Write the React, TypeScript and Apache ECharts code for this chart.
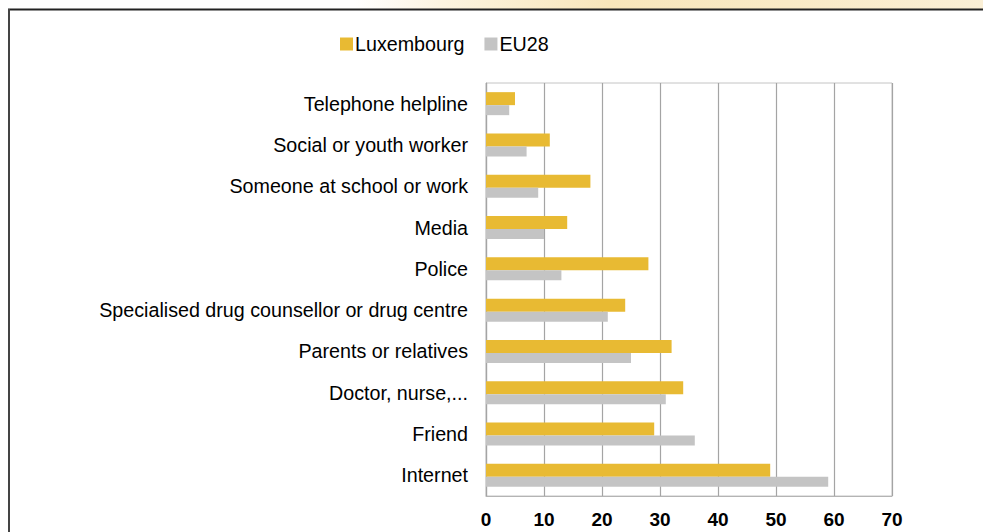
import React, { useEffect, useRef } from "react";
import * as echarts from "echarts";

const categories = [
  "Internet",
  "Friend",
  "Doctor, nurse,...",
  "Parents or relatives",
  "Specialised drug counsellor or drug centre",
  "Police",
  "Media",
  "Someone at school or work",
  "Social or youth worker",
  "Telephone helpline",
];
const luxembourg = [49, 29, 34, 32, 24, 28, 14, 18, 11, 5];
const eu28 = [59, 36, 31, 25, 21, 13, 10, 9, 7, 4];
const xTicks = [0, 10, 20, 30, 40, 50, 60, 70];

export default function App() {
  const ref = useRef<HTMLDivElement>(null);
  useEffect(() => {
    if (!ref.current) return;
    const chart = echarts.init(ref.current, null, { renderer: "svg" });
    chart.setOption({
      animation: false,
      backgroundColor: "#ffffff",
      textStyle: { fontFamily: "Liberation Sans, Arial, sans-serif" },
      graphic: [
        {
          type: "rect",
          shape: { x: 0, y: 0, width: 983, height: 9 },
          style: {
            fill: new echarts.graphic.LinearGradient(0, 0, 1, 0, [
              { offset: 0, color: "#ffffff" },
              { offset: 0.36, color: "#ffffff" },
              { offset: 0.45, color: "#FCF4E0" },
              { offset: 0.62, color: "#F8E6BB" },
              { offset: 0.8, color: "#F9EAC6" },
              { offset: 1, color: "#FAEFD6" },
            ]),
          },
          silent: true,
        },
        {
          type: "line",
          shape: { x1: 8, y1: 9.5, x2: 983, y2: 9.5 },
          style: { stroke: "#222222", lineWidth: 2 },
          silent: true,
        },
        {
          type: "line",
          shape: { x1: 9, y1: 9, x2: 9, y2: 532 },
          style: { stroke: "#444444", lineWidth: 2 },
          silent: true,
        },
      ],
      legend: {
        data: ["Luxembourg", "EU28"],
        left: 335,
        top: 29,
        itemWidth: 13,
        itemHeight: 13,
        itemGap: 20,
        icon: "rect",
        textStyle: {
          fontSize: 19.7,
          color: "#000000",
          fontFamily: "Liberation Sans, Arial, sans-serif",
          padding: [0, 0, 0, -3],
        },
      },
      grid: {
        left: 486,
        right: 91,
        top: 83,
        bottom: 36,
        show: true,
        borderColor: "#C4C4C4",
        borderWidth: 1,
        containLabel: false,
      },
      xAxis: {
        type: "value",
        min: xTicks[0],
        max: xTicks[xTicks.length - 1],
        interval: 10,
        axisLine: { show: true, lineStyle: { color: "#B4B4B4" } },
        axisTick: { show: false },
        splitLine: { show: true, lineStyle: { color: "#A4A4A4", width: 1.2 } },
        axisLabel: {
          fontSize: 19,
          fontWeight: "bold",
          color: "#000000",
          margin: 14,
          fontFamily: "Liberation Sans, Arial, sans-serif",
        },
      },
      yAxis: {
        type: "category",
        data: categories,
        axisLine: { show: true, lineStyle: { color: "#A4A4A4", width: 1.2 } },
        axisTick: { show: false },
        axisLabel: {
          fontSize: 19.7,
          color: "#000000",
          margin: 18,
          fontFamily: "Liberation Sans, Arial, sans-serif",
        },
      },
      series: [
        {
          name: "Luxembourg",
          type: "bar",
          data: luxembourg,
          barWidth: 13,
          barGap: "0%",
          itemStyle: { color: "#E8BA33" },
        },
        {
          name: "EU28",
          type: "bar",
          data: eu28,
          barWidth: 10,
          barGap: "0%",
          itemStyle: { color: "#C4C4C4" },
        },
      ],
    });
    return () => chart.dispose();
  }, []);
  return (
    <div
      ref={ref}
      style={{ position: "fixed", left: 0, top: 0, width: 983, height: 532 }}
    />
  );
}
